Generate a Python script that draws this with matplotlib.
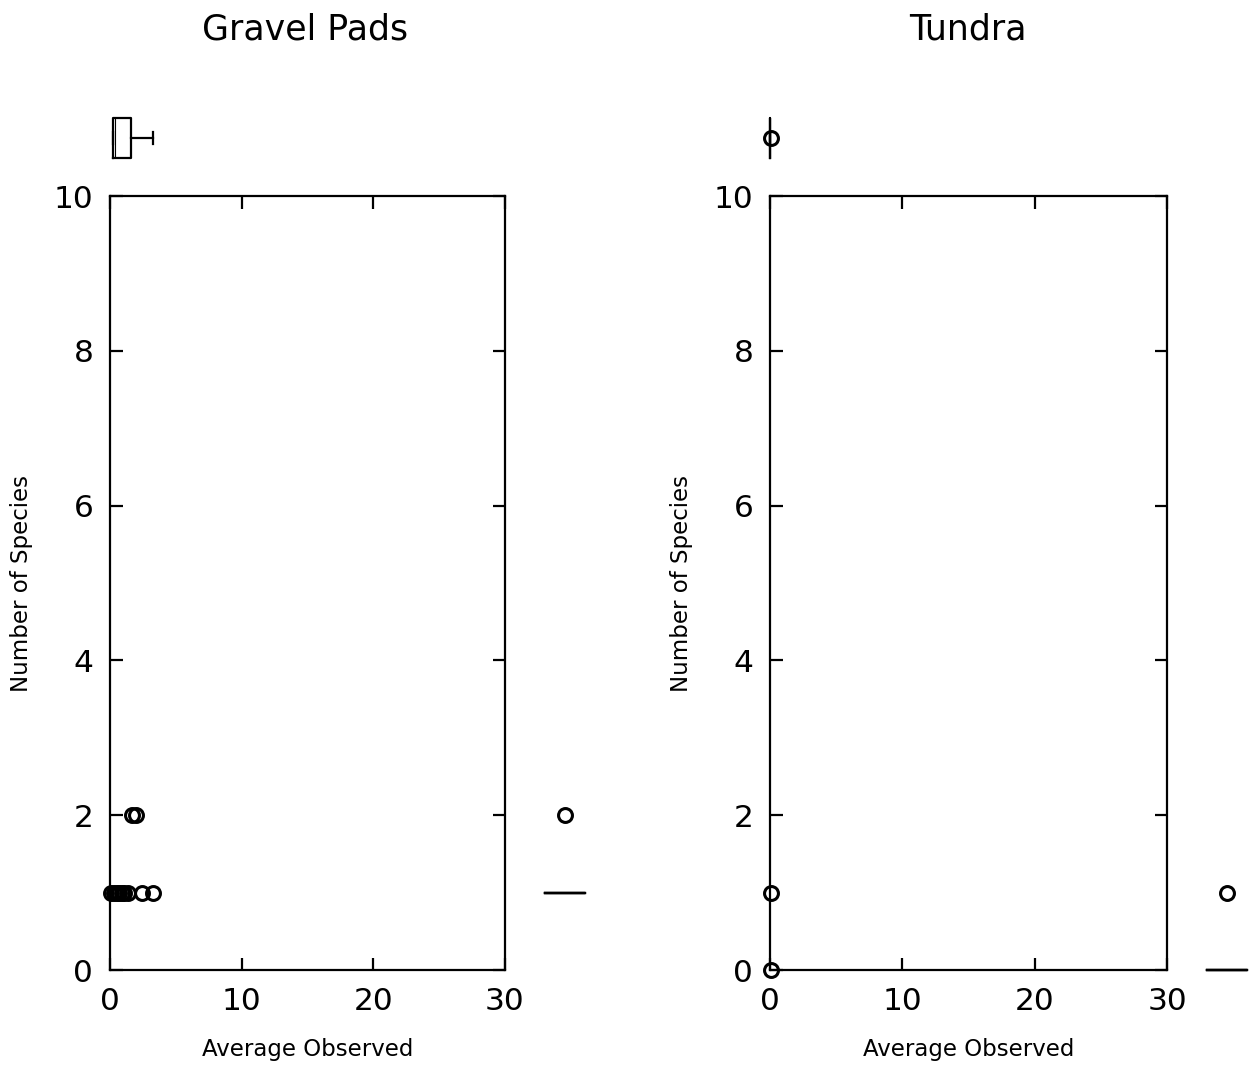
import matplotlib
matplotlib.use("Agg")
import matplotlib.pyplot as plt

plt.rcParams['font.family'] = ['DejaVu Sans']

# ---- data ----
panel_titles = ["Gravel Pads", "Tundra"]
x_ticks = [0, 10, 20, 30]
y_ticks = [0, 2, 4, 6, 8, 10]

gravel_x = [0.1, 0.3, 0.5, 0.7, 0.9, 1.1, 1.4, 2.4, 3.3, 1.7, 2.0]
gravel_y = [1, 1, 1, 1, 1, 1, 1, 1, 1, 2, 2]

tundra_x = [0.05, 0.05]
tundra_y = [1, 0]

# marginal box summaries (whislo, q1, med, q3, whishi, fliers)
gravel_xbox = [0.25, 0.25, 0.35, 1.6, 3.3, []]
gravel_ybox = [1, 1, 1, 1, 1, [2]]
tundra_xbox = [0, 0, 0, 0, 0, [0.05]]
tundra_ybox = [0, 0, 0, 0, 0, [1]]

W, H = 1257, 1070
fig = plt.figure(figsize=(W / 100, H / 100), dpi=100)

def stats(s):
    return [dict(whislo=s[0], q1=s[1], med=s[2], q3=s[3], whishi=s[4], fliers=s[5])]

lw = 1.6
mk = dict(marker='o', markersize=10, markerfacecolor='none',
          markeredgecolor='black', markeredgewidth=2.2)
boxkw = dict(boxprops=dict(color='black', linewidth=lw),
             whiskerprops=dict(color='black', linewidth=lw),
             capprops=dict(color='black', linewidth=lw),
             medianprops=dict(color='black', linewidth=0.8),
             flierprops=mk)

panels = [
    (110, 505, panel_titles[0], gravel_x, gravel_y, gravel_xbox, gravel_ybox, 305),
    (770, 1167, panel_titles[1], tundra_x, tundra_y, tundra_xbox, tundra_ybox, 968),
]
top_px, bot_px = 196, 970

for (x0, x1, title, xs, ys, xbox, ybox, tx) in panels:
    ax = fig.add_axes([x0 / W, 1 - bot_px / H, (x1 - x0) / W, (bot_px - top_px) / H])
    ax.plot(xs, ys, linestyle='none', clip_on=False, zorder=5, **mk)
    ax.set_xlim(0, 30)
    ax.set_ylim(0, 10)
    ax.set_xticks(x_ticks)
    ax.set_yticks(y_ticks)
    ax.tick_params(direction='in', top=True, right=True, length=9, width=lw,
                   labelsize=22.5, pad=12)
    for sp in ax.spines.values():
        sp.set_linewidth(lw)
    ax.set_xlabel("Average Observed", fontsize=16.5)
    ax.set_ylabel("Number of Species", fontsize=16.5)
    ax.xaxis.set_label_coords(0.5, -0.088)
    ax.yaxis.set_label_coords(-0.195, 0.5)

    # top marginal boxplot
    axt = fig.add_axes([x0 / W, 1 - 166 / H, (x1 - x0) / W, 56 / H], sharex=ax)
    axt.bxp(stats(xbox), positions=[0], widths=[40 / 56], orientation='horizontal',
            capwidths=[12 / 56], **boxkw)
    axt.set_ylim(-0.5, 0.5)
    axt.set_xlim(0, 30)
    axt.axis('off')
    for a in axt.get_children():
        if hasattr(a, 'set_clip_on'):
            a.set_clip_on(False)

    # right marginal boxplot
    axr = fig.add_axes([(x1 + 30) / W, 1 - bot_px / H, 60 / W, (bot_px - top_px) / H], sharey=ax)
    axr.bxp(stats(ybox), positions=[0], widths=[40 / 60], capwidths=[40 / 60], **boxkw)
    axr.set_xlim(-0.5, 0.5)
    axr.set_ylim(0, 10)
    axr.axis('off')
    for a in axr.get_children():
        if hasattr(a, 'set_clip_on'):
            a.set_clip_on(False)

    fig.text(tx / W, 1 - 30 / H, title, ha='center', va='center', fontsize=25)

fig.savefig("out.png", dpi=100, facecolor='white')
